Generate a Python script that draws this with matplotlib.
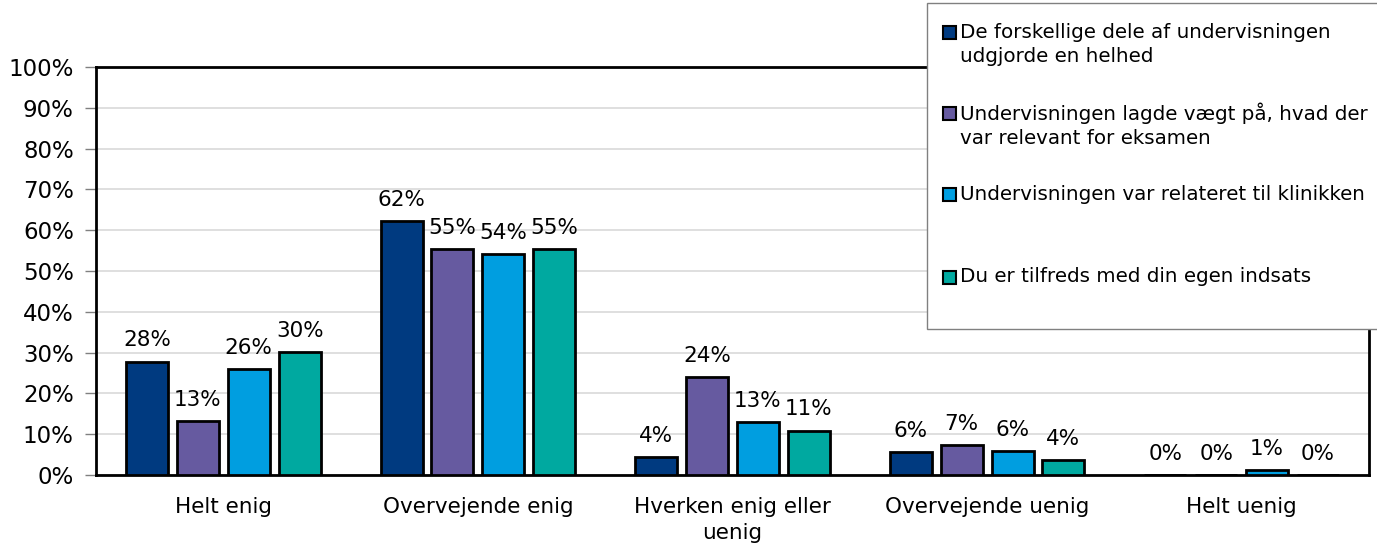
import numpy as np
import matplotlib.pyplot as plt
from matplotlib.patches import Rectangle

# categories and series
categories = ['Helt enig', 'Overvejende enig', 'Hverken enig eller\nuenig',
              'Overvejende uenig', 'Helt uenig']
series_names = ['De forskellige dele af undervisningen\nudgjorde en helhed',
                'Undervisningen lagde vægt på, hvad der\nvar relevant for eksamen',
                'Undervisningen var relateret til klinikken',
                'Du er tilfreds med din egen indsats']
helhed = [27.8, 62.2, 4.4, 5.6, 0.0]
eksamen = [13.3, 55.4, 24.1, 7.3, 0.0]
klinik = [25.9, 54.1, 13.0, 5.9, 1.2]
indsats = [30.1, 55.4, 10.9, 3.6, 0.0]
colors = ['#003A80', '#665AA0', '#009EE0', '#00A9A0']
yticks = list(range(0, 101, 10))

plt.rcParams['font.family'] = 'DejaVu Sans'
plt.rcParams['font.size'] = 15

fig = plt.figure(figsize=(13.77, 5.49), dpi=100)
ax = fig.add_axes([96/1377, 1-475/549, (1369-96)/1377, (475-67)/549])

x = np.arange(len(categories))
width = 0.165
offsets = [-0.3, -0.1, 0.1, 0.3]
for vals, off, col in zip([helhed, eksamen, klinik, indsats], offsets, colors):
    bars = ax.bar(x + off, vals, width, color=col, edgecolor='black', linewidth=2, zorder=3)
    ax.bar_label(bars, fmt='%.0f%%', padding=8, fontsize=15.5)

ax.set_xlim(-0.5, len(categories) - 0.5)
ax.set_ylim(0, 100)
ax.set_yticks(yticks)
ax.set_yticklabels([f'{t}%' for t in yticks], fontsize=16.5)
ax.set_xticks(x)
ax.set_xticklabels(categories, fontsize=15.5, linespacing=1.35)
ax.tick_params(axis='x', length=0, pad=16)
ax.tick_params(axis='y', length=8, width=1, color='#808080', pad=8)
ax.yaxis.grid(True, color='#D9D9D9', linewidth=1.2, zorder=0)
ax.set_axisbelow(True)
for s in ax.spines.values():
    s.set_linewidth(2)
    s.set_color('black')

# legend box, drawn by hand to follow the original layout
W, H = 1377, 549
fig.add_artist(Rectangle((927/W, 1-329/H), 460/W, 326/H, transform=fig.transFigure,
                         facecolor='white', edgecolor='#808080', linewidth=1, zorder=10))
line_tops = [32, 113, 195, 277]
for name, col, yt in zip(series_names, colors, line_tops):
    fig.add_artist(Rectangle((943/W, 1-(yt+6.5)/H), 13/W, 13/H, transform=fig.transFigure,
                             facecolor=col, edgecolor='black', linewidth=1.5, zorder=11))
    for k, line in enumerate(name.split('\n')):
        fig.text(960/W, 1-(yt+k*25)/H, line, fontsize=14.3, va='center', ha='left', zorder=12)

plt.savefig('out.png', dpi=100)
